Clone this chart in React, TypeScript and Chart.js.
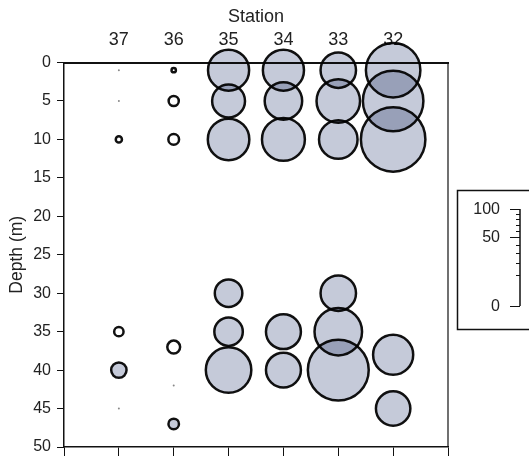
import React, { useEffect, useRef } from "react";
import { Chart, registerables } from "chart.js";

Chart.register(...registerables);

// Stations shown along the top axis (left to right)
const stationLabels = ["37", "36", "35", "34", "33", "32"];

// Samples: station, depth (m), abundance value, drawn as open circle?
const pointStation = [
  37, 37, 37, 37, 37, 37,
  36, 36, 36, 36, 36, 36,
  35, 35, 35, 35, 35, 35,
  34, 34, 34, 34, 34,
  33, 33, 33, 33, 33, 33,
  32, 32, 32, 32, 32,
];
const pointDepth = [
  1, 5, 10, 35, 40, 45,
  1, 5, 10, 37, 42, 47,
  1, 5, 10, 30, 35, 40,
  1, 5, 10, 35, 40,
  1, 5, 10, 30, 35, 40,
  1, 5, 10, 38, 45,
];
const pointValue = [
  0, 0, 0.8, 1.5, 3.4, 0,
  0.5, 1.7, 1.85, 2.5, 0, 1.8,
  20.2, 13.3, 20.6, 9.6, 10.2, 24.5,
  20.2, 17, 21.9, 14.9, 14.9,
  15.3, 22.5, 17.9, 15.3, 26.6, 42.7,
  34.5, 42.2, 47.7, 19.3, 14.5,
];
const pointOpen = [
  false, false, true, true, false, false,
  true, true, true, true, false, false,
  false, false, false, false, false, false,
  false, false, false, false, false,
  false, false, false, false, false, false,
  false, false, false, false, false,
];

// Size legend ticks
const legendMajor = [0, 50, 100];
const legendMinor = [10, 20, 30, 40, 60, 70, 80, 90];

const DIAM_100 = 97; // pixel diameter for value 100 (area-proportional)
const BORDER = 2.5;
const valueToRadius = (v: number) =>
  v <= 0 ? 1 : Math.max(1, (DIAM_100 / 2) * Math.sqrt(v / 100) - BORDER / 2);

const FONT = "'Liberation Sans', Arial, Helvetica, sans-serif";
const FILL = "#c5cad9";

export default function App() {
  const canvasRef = useRef<HTMLCanvasElement | null>(null);

  useEffect(() => {
    if (!canvasRef.current) return;

    const data = pointStation.map((s, i) => ({
      x: stationLabels.indexOf(String(s)) + 1,
      y: pointDepth[i],
      r: valueToRadius(pointValue[i]),
    }));

    const multiplyPlugin = {
      id: "multiply",
      beforeDatasetsDraw(chart: any) {
        chart.ctx.save();
        chart.ctx.globalCompositeOperation = "multiply";
      },
      afterDatasetsDraw(chart: any) {
        chart.ctx.restore();
      },
    };

    const framePlugin = {
      id: "frameAndLegend",
      afterDraw(chart: any) {
        const ctx = chart.ctx;
        const a = chart.chartArea;
        ctx.save();
        ctx.strokeStyle = "#111";
        ctx.lineWidth = 1.2;
        ctx.beginPath();
        ctx.moveTo(a.right, a.top);
        ctx.lineTo(a.right, a.bottom);
        ctx.stroke();

        // size legend box
        const bx = 457.5, by = 190.5, bh = 139;
        ctx.lineWidth = 1.5;
        ctx.strokeRect(bx, by, 120, bh);
        const rx = 520, y0 = 306;
        const ypos = (v: number) => y0 - DIAM_100 * Math.sqrt(v / 100);
        ctx.lineWidth = 1.5;
        ctx.beginPath();
        ctx.moveTo(rx, y0);
        ctx.lineTo(rx, ypos(100));
        ctx.stroke();
        ctx.lineWidth = 1;
        legendMinor.forEach((v) => {
          const y = Math.round(ypos(v)) + 0.5;
          ctx.beginPath();
          ctx.moveTo(rx - 4, y);
          ctx.lineTo(rx, y);
          ctx.stroke();
        });
        ctx.fillStyle = "#222";
        ctx.font = `16px ${FONT}`;
        ctx.textAlign = "right";
        ctx.textBaseline = "middle";
        legendMajor.forEach((v) => {
          const y = Math.round(ypos(v)) + 0.5;
          ctx.beginPath();
          ctx.moveTo(rx - 10, y);
          ctx.lineTo(rx, y);
          ctx.stroke();
          ctx.fillText(String(v), rx - 20, y);
        });
        ctx.restore();
      },
    };

    const noPadH = (s: any, h: number) => {
      s.height = h;
      s.paddingLeft = 0;
      s.paddingRight = 0;
      s.paddingTop = 0;
      s.paddingBottom = 0;
    };

    const chart = new Chart(canvasRef.current, {
      type: "bubble",
      data: {
        datasets: [
          {
            data,
            clip: false,
            backgroundColor: (c: any) =>
              pointValue[c.dataIndex] <= 0
                ? "#888"
                : pointOpen[c.dataIndex]
                ? "#ffffff"
                : FILL,
            borderColor: "#111",
            borderWidth: (c: any) =>
              pointValue[c.dataIndex] <= 0 ? 0 : BORDER,
            hoverRadius: 0,
          } as any,
        ],
      },
      options: {
        animation: false,
        responsive: false,
        layout: {
          autoPadding: false,
          padding: { left: 0, right: 81, top: 0, bottom: 0 },
        },
        plugins: {
          legend: { display: false },
          tooltip: { enabled: false },
        },
        scales: {
          x: {
            type: "linear",
            position: "bottom",
            min: 0,
            max: 7,
            ticks: { stepSize: 1, display: false },
            grid: {
              drawOnChartArea: false,
              drawTicks: true,
              tickLength: 9,
              color: "#111",
              lineWidth: 1,
            },
            border: { display: true, color: "#111", width: 1.5 },
            afterFit: (s: any) => noPadH(s, 12),
          },
          x2: {
            type: "linear",
            position: "top",
            min: 0,
            max: 7,
            ticks: {
              stepSize: 1,
              padding: 12,
              color: "#222",
              font: { family: FONT, size: 18 },
              callback: (v: any) => stationLabels[Number(v) - 1] ?? "",
            },
            grid: { display: false, drawTicks: false },
            border: { display: true, color: "#111", width: 2 },
            title: {
              display: true,
              text: "Station",
              color: "#222",
              font: { family: FONT, size: 18 },
              padding: { top: 6, bottom: 0 },
            },
            afterFit: (s: any) => noPadH(s, 62.5),
          },
          y: {
            type: "linear",
            reverse: true,
            min: 0,
            max: 50,
            ticks: {
              stepSize: 5,
              padding: 6,
              color: "#222",
              font: { family: FONT, size: 16 },
            },
            grid: {
              drawOnChartArea: false,
              drawTicks: true,
              tickLength: 7,
              color: "#111",
              lineWidth: 1,
            },
            border: { display: true, color: "#111", width: 1.5 },
            title: {
              display: true,
              text: "Depth (m)",
              color: "#222",
              font: { family: FONT, size: 17.5 },
              padding: { top: 7, bottom: 0 },
            },
            afterFit: (s: any) => {
              s.width = 64;
              s.paddingTop = 0;
              s.paddingBottom = 0;
              s.paddingLeft = 0;
              s.paddingRight = 0;
            },
          },
        },
      } as any,
      plugins: [multiplyPlugin, framePlugin],
    });

    return () => chart.destroy();
  }, []);

  return (
    <div
      style={{
        position: "absolute",
        left: 0,
        top: 0,
        width: 529,
        height: 459,
        background: "#fff",
      }}
    >
      <canvas ref={canvasRef} width={529} height={459} />
    </div>
  );
}
